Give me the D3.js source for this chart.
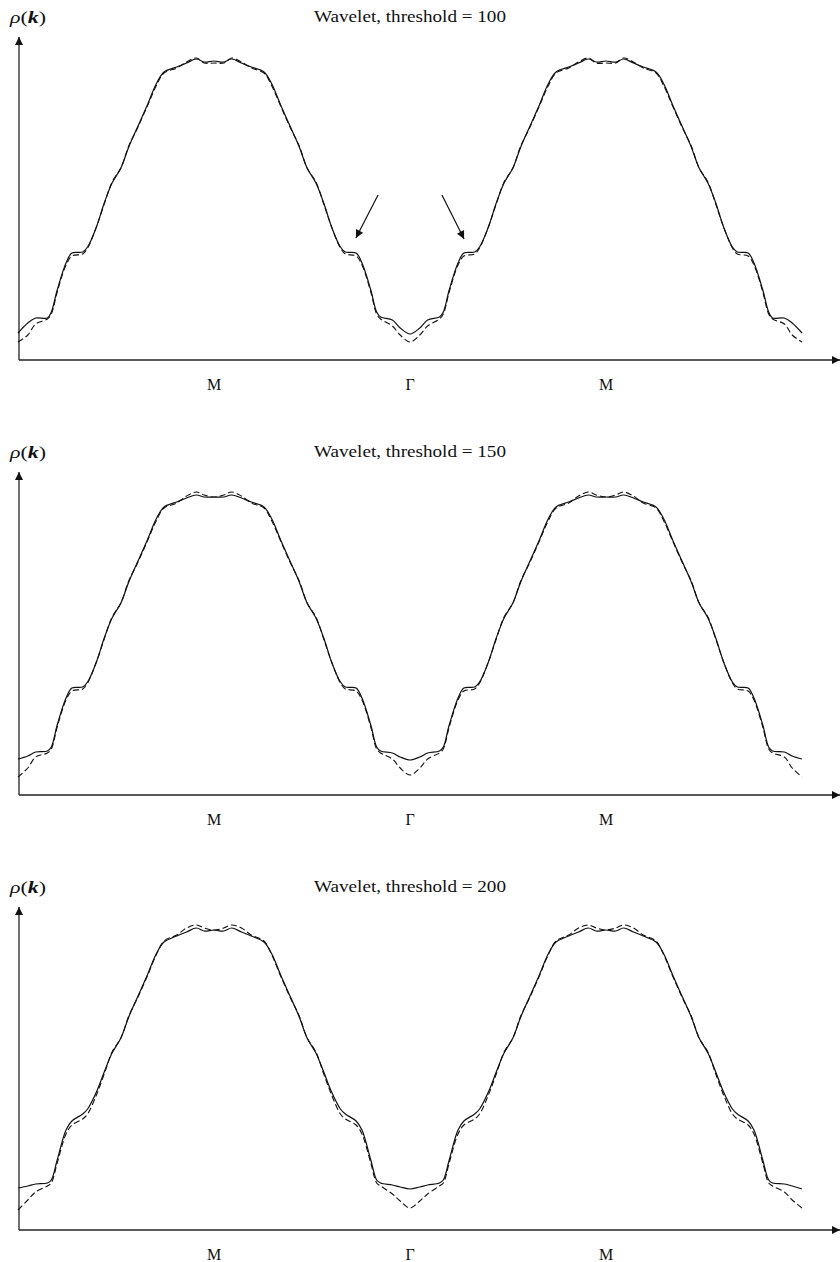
<!DOCTYPE html>
<html>
<head>
<meta charset="utf-8">
<script src="https://cdn.jsdelivr.net/npm/d3@7"></script>
<style>
  html, body { margin: 0; padding: 0; background: #fff; }
  svg { display: block; }
  text { font-family: "Liberation Serif", "DejaVu Serif", serif; fill: #111; }
</style>
</head>
<body>
<svg id="chart" width="840" height="1262"></svg>
<script>
// ---- data ----
const thresholds = [100, 150, 200];
const tickLabels = ["M", "Γ", "M"];
const tickPositions = [1, 2, 3];

// k along the path Γ – M – Γ – M – Γ (Γ = 0, 2, 4; M = 1, 3)
const kValues = [
  0, 0.05, 0.09, 0.15, 0.17, 0.20, 0.245, 0.275, 0.33, 0.355, 0.40, 0.44, 0.48, 0.525, 0.565, 0.61, 0.66, 0.705, 0.745, 0.81, 0.86, 0.91, 0.95, 1,
  1.05, 1.09, 1.14, 1.19, 1.255, 1.295, 1.34, 1.39, 1.435, 1.475, 1.52, 1.56, 1.60, 1.645, 1.67, 1.725, 1.755, 1.80, 1.83, 1.85, 1.91, 1.95, 2,
  2.05, 2.09, 2.15, 2.17, 2.20, 2.245, 2.275, 2.33, 2.355, 2.40, 2.44, 2.48, 2.525, 2.565, 2.61, 2.66, 2.705, 2.745, 2.81, 2.86, 2.91, 2.95, 3,
  3.05, 3.09, 3.14, 3.19, 3.255, 3.295, 3.34, 3.39, 3.435, 3.475, 3.52, 3.56, 3.60, 3.645, 3.67, 3.725, 3.755, 3.80, 3.83, 3.85, 3.91, 3.95, 4
];

// threshold = 100
const solid100 = [
  27, 37, 42, 42, 48, 70, 97, 107, 108, 113, 133, 157, 177, 192, 213, 233, 255, 276, 288, 293, 297, 301, 298, 299,
  298, 301, 297, 293, 288, 276, 255, 233, 213, 192, 177, 157, 133, 113, 108, 107, 97, 70, 48, 43, 40, 32, 26,
  32, 40, 43, 48, 70, 97, 107, 108, 113, 133, 157, 177, 192, 213, 233, 255, 276, 288, 293, 297, 301, 298, 299,
  298, 301, 297, 293, 288, 276, 255, 233, 213, 192, 177, 157, 133, 113, 108, 107, 97, 70, 48, 42, 42, 37, 27
];
const dashed100 = [
  18, 25, 36, 41, 46, 68, 95, 104, 106, 112, 133, 156, 178, 192, 214, 232, 254, 274, 287, 292, 298, 302, 297, 297,
  297, 302, 298, 292, 287, 274, 254, 232, 214, 192, 178, 156, 133, 112, 106, 104, 95, 68, 46, 41, 34, 25, 18,
  25, 34, 41, 46, 68, 95, 104, 106, 112, 133, 156, 178, 192, 214, 232, 254, 274, 287, 292, 298, 302, 297, 297,
  297, 302, 298, 292, 287, 274, 254, 232, 214, 192, 178, 156, 133, 112, 106, 104, 95, 68, 46, 41, 36, 25, 18
];
// threshold = 150
const solid150 = [
  36, 39, 43, 44, 48, 70, 97, 107, 108, 113, 133, 157, 177, 192, 213, 233, 255, 276, 288, 293, 297, 300, 298, 298,
  298, 300, 297, 293, 288, 276, 255, 233, 213, 192, 177, 157, 133, 113, 108, 107, 97, 70, 48, 44, 42, 38, 35,
  38, 42, 44, 48, 70, 97, 107, 108, 113, 133, 157, 177, 192, 213, 233, 255, 276, 288, 293, 297, 300, 298, 298,
  298, 300, 297, 293, 288, 276, 255, 233, 213, 192, 177, 157, 133, 113, 108, 107, 97, 70, 48, 44, 43, 39, 36
];
const dashed150 = [
  18, 27, 38, 42, 46, 68, 95, 104, 106, 112, 133, 156, 178, 192, 214, 232, 254, 274, 287, 292, 299, 303, 300, 298,
  300, 303, 299, 292, 287, 274, 254, 232, 214, 192, 178, 156, 133, 112, 106, 104, 95, 68, 46, 42, 36, 27, 20,
  27, 36, 42, 46, 68, 95, 104, 106, 112, 133, 156, 178, 192, 214, 232, 254, 274, 287, 292, 299, 303, 300, 298,
  300, 303, 299, 292, 287, 274, 254, 232, 214, 192, 178, 156, 133, 112, 106, 104, 95, 68, 46, 42, 38, 27, 18
];
// threshold = 200
const solid200 = [
  42, 44, 46, 47, 50, 70, 100, 109, 116, 121, 138, 158, 177, 192, 213, 233, 255, 276, 288, 294, 298, 302, 299, 300,
  299, 302, 298, 294, 288, 276, 255, 233, 213, 192, 177, 158, 138, 121, 116, 109, 100, 70, 50, 47, 45, 43, 41,
  43, 45, 47, 50, 70, 100, 109, 116, 121, 138, 158, 177, 192, 213, 233, 255, 276, 288, 294, 298, 302, 299, 300,
  299, 302, 298, 294, 288, 276, 255, 233, 213, 192, 177, 158, 138, 121, 116, 109, 100, 70, 50, 47, 46, 44, 41
];
const dashed200 = [
  20, 30, 38, 44, 47, 67, 96, 105, 111, 116, 135, 156, 178, 192, 214, 232, 254, 275, 289, 295, 302, 305, 302, 300,
  302, 305, 302, 295, 289, 275, 254, 232, 214, 192, 178, 156, 135, 116, 111, 105, 96, 67, 47, 44, 36, 29, 22,
  29, 36, 44, 47, 67, 96, 105, 111, 116, 135, 156, 178, 192, 214, 232, 254, 275, 289, 295, 302, 305, 302, 300,
  302, 305, 302, 295, 289, 275, 254, 232, 214, 192, 178, 156, 135, 116, 111, 105, 96, 67, 47, 44, 38, 30, 22
];
const solidSeries = [solid100, solid150, solid200];
const dashedSeries = [dashed100, dashed150, dashed200];

// annotation arrows (panel 1): [kStart, vStart, kTip, vTip]
const arrowsK = [[1.837, 165, 1.724, 122], [2.163, 165, 2.276, 121]];

// ---- drawing ----
const svg = d3.select("#chart");
const panelStep = 435;
const axisX0 = 19, axisXEnd = 840;

const defs = svg.append("defs");
defs.append("marker").attr("id", "ah").attr("viewBox", "0 0 10 10")
  .attr("refX", 10).attr("refY", 5).attr("markerWidth", 13).attr("markerHeight", 8)
  .attr("markerUnits", "userSpaceOnUse").attr("orient", "auto")
  .append("path").attr("d", "M0,0 L10,5 L0,10 Z").attr("fill", "#111");
defs.append("marker").attr("id", "axh").attr("viewBox", "0 0 10 10")
  .attr("refX", 10).attr("refY", 5).attr("markerWidth", 10).attr("markerHeight", 8)
  .attr("markerUnits", "userSpaceOnUse").attr("orient", "auto")
  .append("path").attr("d", "M0,0 L10,5 L0,10 Z").attr("fill", "#111");

const x = d3.scaleLinear().domain([0, 4]).range([18, 802]);

thresholds.forEach((th, i) => {
  const off = i * panelStep;
  const g = svg.append("g");
  const y = d3.scaleLinear().domain([0, 320]).range([360 + off, 40 + off]);

  // axes
  g.append("line").attr("x1", axisX0).attr("y1", y(0)).attr("x2", axisX0).attr("y2", 37 + off)
    .attr("stroke", "#222").attr("stroke-width", 1.3).attr("marker-end", "url(#axh)");
  g.append("line").attr("x1", axisX0).attr("y1", y(0)).attr("x2", axisXEnd).attr("y2", y(0))
    .attr("stroke", "#222").attr("stroke-width", 1.3).attr("marker-end", "url(#axh)");

  // tick labels
  g.selectAll("text.tick").data(tickPositions).enter().append("text")
    .attr("class", "tick")
    .attr("x", d => x(d)).attr("y", y(0) + 30)
    .attr("text-anchor", "middle").attr("font-size", 16)
    .text((d, j) => tickLabels[j]);

  // y label
  const yl = g.append("text").attr("x", 10).attr("y", 23 + off).attr("font-size", 17)
    .attr("textLength", 36).attr("lengthAdjust", "spacingAndGlyphs");
  yl.append("tspan").attr("font-style", "italic").text("ρ");
  yl.append("tspan").text("(");
  yl.append("tspan").attr("font-weight", "bold").attr("font-style", "italic").text("k");
  yl.append("tspan").text(")");

  // title
  g.append("text").attr("x", 410).attr("y", 22 + off).attr("text-anchor", "middle")
    .attr("font-size", 17)
    .attr("textLength", 192).attr("lengthAdjust", "spacingAndGlyphs")
    .text("Wavelet, threshold = " + th);

  const line = d3.line().x((d, j) => x(kValues[j])).y(d => y(d)).curve(d3.curveCatmullRom.alpha(0.5));

  g.append("path").datum(dashedSeries[i]).attr("d", line)
    .attr("fill", "none").attr("stroke", "#111").attr("stroke-width", 1.1)
    .attr("stroke-dasharray", "6,3");
  g.append("path").datum(solidSeries[i]).attr("d", line)
    .attr("fill", "none").attr("stroke", "#111").attr("stroke-width", 1.2);

  if (i === 0) {
    arrowsK.forEach(a => {
      g.append("line")
        .attr("x1", x(a[0])).attr("y1", y(a[1]))
        .attr("x2", x(a[2])).attr("y2", y(a[3]))
        .attr("stroke", "#111").attr("stroke-width", 1.2)
        .attr("marker-end", "url(#ah)");
    });
  }
});
</script>
</body>
</html>
